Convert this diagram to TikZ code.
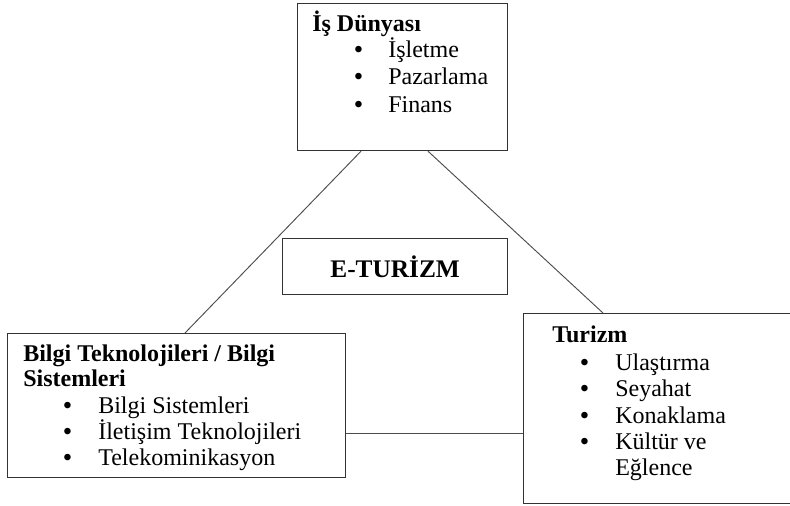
\documentclass[tikz,border=0pt]{standalone}
\usepackage{fontspec}
\setmainfont{Liberation Serif}
\usetikzlibrary{calc}
\tikzset{
  boxframe/.style={draw=black!80, line width=0.9pt, inner sep=0pt, anchor=north west},
  conn/.style={draw=black!70, line width=0.7pt},
  txt/.style={anchor=base west, inner sep=0pt, font=\fontsize{18}{21}\selectfont},
  head/.style={txt, font=\fontsize{18}{21}\selectfont\bfseries},
  blt/.style={anchor=base west, inner sep=0pt, font=\fontsize{18}{21}\selectfont\bfseries}
}
\begin{document}
\begin{tikzpicture}[x=0.75pt,y=-0.75pt]
\useasboundingbox (0,0) rectangle (790,506);
% boxes
\node[boxframe, minimum width=210*0.75pt, minimum height=147*0.75pt] (top) at (297,3) {};
\node[boxframe, minimum width=225*0.75pt, minimum height=56*0.75pt] (mid) at (282,238) {};
\node[boxframe, minimum width=338*0.75pt, minimum height=144*0.75pt] (bl) at (7,333) {};
\node[boxframe, minimum width=285*0.75pt, minimum height=190*0.75pt] (br) at (523,313) {};
% top text
\node[head] (t0) at (312,32) {İş Dünyası};
\node[blt] (tb1) at (354,58) {•};
\node[txt] (t1) at (388,58) {İşletme};
\node[blt] (tb2) at (354,85) {•};
\node[txt] (t2) at (388,85) {Pazarlama};
\node[blt] (tb3) at (354,113) {•};
\node[txt] (t3) at (388,113) {Finans};
% middle
\node[font=\fontsize{19}{22}\selectfont\bfseries, inner sep=0pt] (m0) at (mid.center) {E-TURİZM};
% bottom left text
\node[head] (l0) at (23,362) {Bilgi Teknolojileri / Bilgi};
\node[head] (l1) at (23,387) {Sistemleri};
\node[blt] (lb1) at (63,413) {•};
\node[txt] (l2) at (98,413) {Bilgi Sistemleri};
\node[blt] (lb2) at (63,439) {•};
\node[txt] (l3) at (98,439) {İletişim Teknolojileri};
\node[blt] (lb3) at (63,465) {•};
\node[txt] (l4) at (98,465) {Telekominikasyon};
% bottom right text
\node[head] (r0) at (552,343) {Turizm};
\node[blt] (rb1) at (580,370) {•};
\node[txt] (r1) at (615,370) {Ulaştırma};
\node[blt] (rb2) at (580,397) {•};
\node[txt] (r2) at (615,397) {Seyahat};
\node[blt] (rb3) at (580,423) {•};
\node[txt] (r3) at (615,423) {Konaklama};
\node[blt] (rb4) at (580,450) {•};
\node[txt] (r4) at (615,450) {Kültür ve};
\node[txt] (r5) at (615,475) {Eğlence};
% connectors
\draw[conn] ($(top.south west)+(64,0)$) -- ($(bl.north west)+(178,0)$);
\draw[conn] ($(top.south west)+(131,0)$) -- ($(br.north west)+(80,0)$);
\coordinate (hstart) at ($(bl.south east)+(0,-45)$);
\draw[conn] (hstart) -- (hstart -| br.west);
\end{tikzpicture}
\end{document}
